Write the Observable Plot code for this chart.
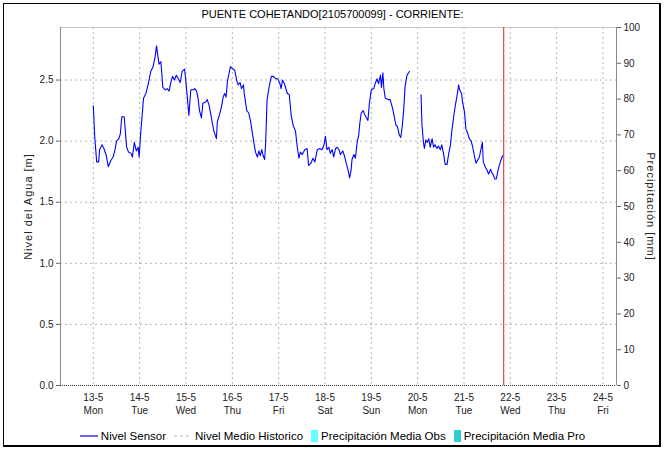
<!DOCTYPE html>
<html><head><meta charset="utf-8">
<script src="https://cdn.jsdelivr.net/npm/d3@7"></script>
<script src="https://cdn.jsdelivr.net/npm/@observablehq/plot@0.6"></script>
<style>
body{margin:0;background:#fff;font-family:"Liberation Sans",Arial,sans-serif;}
#wrap{position:relative;width:665px;height:449px;overflow:hidden;background:#fff;}
#frame{position:absolute;left:3px;top:3px;width:658px;height:444px;border:1px solid #000;border-right-width:2px;border-bottom-width:2px;box-sizing:border-box;}
#title{position:absolute;left:0;top:8px;width:665px;text-align:center;font-size:11px;line-height:13px;color:#000;}
#chart{position:absolute;left:0;top:22px;}
#legend{position:absolute;left:0;top:429px;width:665px;display:flex;justify-content:center;align-items:center;font-size:11.5px;line-height:14px;color:#000;}
#legend .it{display:flex;align-items:center;margin:0 4px;}
#legend svg{margin-right:3px;}
</style>
</head><body>
<div id="wrap">
<div id="frame"></div>
<div id="title"></div>
<div id="chart"></div>
<div id="legend"></div>
</div>
<script>
const title = "PUENTE COHETANDO[2105700099] - CORRIENTE:";
const yLabelLeft = "Nivel del Agua [m]";
const yLabelRight = "Precipitación [mm]";
const levelTicks = [0, 0.5, 1.0, 1.5, 2.0, 2.5];
const precipTicks = [0, 10, 20, 30, 40, 50, 60, 70, 80, 90, 100];
const yMax = 2.93;
const dayTicks = ["2024-05-13","2024-05-14","2024-05-15","2024-05-16","2024-05-17","2024-05-18","2024-05-19","2024-05-20","2024-05-21","2024-05-22","2024-05-23","2024-05-24"];
const dayNames = ["Sun","Mon","Tue","Wed","Thu","Fri","Sat"];
const xStart = "2024-05-12 07:00";
const xEnd = "2024-05-24 07:00";
const nowTime = "2024-05-21 20:35";
const legendItems = ["Nivel Sensor","Nivel Medio Historico","Precipitación Media Obs","Precipitación Media Pro"];

const may13 = [["00:00",2.29],["00:45",2.03],["01:45",1.83],["02:45",1.83],["03:15",1.93],["04:30",1.97],["05:30",1.94],["06:45",1.88],["07:45",1.79],["09:00",1.84],["10:15",1.87],["11:15",1.93],["12:00",2.00],["13:15",2.02],["14:00",2.06],["14:45",2.20],["16:00",2.20],["16:30",2.10],["17:15",1.95],["18:15",1.91],["19:30",1.90],["20:15",1.87],["21:15",1.99],["22:15",1.92],["23:15",1.95],["23:45",1.87]];
const may14 = [["00:30",2.06],["01:30",2.25],["02:00",2.35],["03:15",2.39],["04:30",2.47],["05:45",2.57],["07:00",2.61],["08:00",2.69],["08:45",2.78],["09:15",2.72],["10:00",2.63],["11:00",2.65],["11:30",2.55],["12:00",2.44],["13:15",2.42],["14:15",2.43],["15:15",2.41],["16:00",2.47],["17:00",2.53],["18:00",2.50],["19:00",2.54],["20:00",2.51],["21:00",2.48],["22:00",2.57],["23:15",2.59],["23:45",2.52]];
const may15 = [["00:45",2.35],["01:30",2.21],["02:30",2.42],["04:00",2.42],["04:30",2.43],["05:30",2.41],["06:15",2.35],["07:00",2.25],["08:00",2.19],["08:45",2.31],["10:15",2.32],["11:00",2.34],["12:00",2.29],["12:45",2.23],["13:45",2.14],["14:30",2.08],["15:45",2.02],["16:15",2.16],["17:15",2.21],["18:15",2.27],["19:15",2.36],["20:00",2.39],["20:45",2.36],["21:30",2.49],["22:15",2.55],["23:00",2.61]];
const may16 = [["00:15",2.59],["01:15",2.58],["02:15",2.50],["03:00",2.46],["04:00",2.48],["04:45",2.43],["05:45",2.46],["06:15",2.38],["07:30",2.25],["08:30",2.23],["09:30",2.16],["10:15",2.08],["11:15",1.98],["12:00",1.91],["13:00",1.87],["13:45",1.92],["14:30",1.88],["15:15",1.93],["16:00",1.88],["16:45",1.85],["17:15",1.98],["18:00",2.34],["19:15",2.46],["20:15",2.53],["21:15",2.53],["22:30",2.51],["23:30",2.51]];
const may17 = [["00:30",2.48],["01:15",2.43],["02:00",2.50],["03:00",2.47],["04:30",2.39],["05:30",2.38],["06:30",2.21],["07:30",2.13],["08:45",2.08],["09:30",1.97],["10:30",1.86],["11:15",1.91],["12:15",1.89],["13:30",1.93],["14:45",1.94],["15:30",1.80],["16:45",1.82],["17:45",1.86],["18:45",1.83],["20:00",1.93],["21:15",1.94],["22:30",1.93],["23:30",1.97]];
const may18 = [["00:15",2.04],["01:00",1.93],["02:00",1.95],["02:45",1.90],["03:45",1.93],["04:30",1.87],["05:30",1.94],["06:15",1.95],["07:15",1.93],["08:00",1.89],["09:15",1.92],["10:15",1.87],["11:00",1.82],["12:00",1.76],["12:45",1.70],["13:30",1.76],["14:00",1.85],["15:00",1.89],["15:45",1.86],["16:45",2.00],["17:30",2.05],["18:00",2.14],["18:45",2.23],["19:45",2.25],["20:30",2.22],["21:30",2.19],["22:15",2.17],["23:00",2.31]];
const may19 = [["00:00",2.42],["01:15",2.43],["02:00",2.47],["03:00",2.51],["03:45",2.47],["04:45",2.54],["05:15",2.44],["06:00",2.56],["06:30",2.43],["07:15",2.35],["08:45",2.34],["09:45",2.34],["11:00",2.27],["12:00",2.19],["12:45",2.13],["13:30",2.12],["14:30",2.05],["15:15",2.03],["16:00",2.12],["16:45",2.25],["17:30",2.45],["18:30",2.54],["19:45",2.57],["22:00",null]];
const may20 = [["01:45",2.38],["02:15",2.13],["03:00",1.99],["03:30",1.94],["04:15",2.01],["05:00",1.99],["05:45",2.02],["06:30",1.95],["07:30",2.02],["08:15",1.95],["09:00",1.97],["10:00",1.94],["10:45",1.96],["11:45",1.93],["12:30",1.97],["13:30",1.89],["14:15",1.81],["15:15",1.81],["16:00",1.89],["17:00",1.97],["17:45",2.09],["18:45",2.21],["19:30",2.29],["20:30",2.38],["21:15",2.46],["21:45",2.42],["22:45",2.39],["23:15",2.32]];
const may21 = [["00:15",2.24],["01:00",2.10],["02:00",2.06],["02:45",2.02],["03:45",2.00],["04:30",1.95],["05:15",1.89],["06:15",1.82],["07:15",1.85],["08:00",1.87],["08:45",1.93],["09:30",1.99],["10:00",1.83],["11:00",1.79],["12:00",1.76],["12:45",1.73],["13:45",1.77],["14:30",1.74],["15:15",1.72],["16:00",1.69],["16:45",1.69],["17:30",1.75],["18:15",1.80],["19:15",1.85],["20:00",1.88]];

const parse = d3.utcParse("%Y-%m-%d %H:%M");
const parseDay = d3.utcParse("%Y-%m-%d");
const sensorDays = [["2024-05-13",may13],["2024-05-14",may14],["2024-05-15",may15],["2024-05-16",may16],["2024-05-17",may17],["2024-05-18",may18],["2024-05-19",may19],["2024-05-20",may20],["2024-05-21",may21]];
const sensor = sensorDays.flatMap(([day, rows]) => rows.map(([hm, v]) => ({t: parse(day + " " + hm), v: v == null ? NaN : v})));
const xDomain = [parse(xStart), parse(xEnd)];
const ticksX = dayTicks.map(parseDay);
const fontFam = '"Liberation Sans", Arial, sans-serif';

document.getElementById("title").textContent = title;

const chart = Plot.plot({
  width: 665, height: 398,
  marginTop: 5, marginBottom: 35, marginLeft: 60, marginRight: 49,
  x: {type: "utc", domain: xDomain},
  y: {domain: [0, yMax]},
  style: {fontFamily: fontFam, fontSize: "10px", color: "#222", background: "transparent"},
  marks: [
    Plot.gridX(ticksX, {stroke: "#b4b4b4", strokeOpacity: 1, strokeDasharray: "2,3"}),
    Plot.gridY(levelTicks.filter(d => d > 0), {stroke: "#b4b4b4", strokeOpacity: 1, strokeDasharray: "2,3"}),
    Plot.ruleY([yMax], {stroke: "#c8c8c8"}),
    Plot.ruleX([xDomain[0]], {stroke: "#8a8a8a"}),
    Plot.ruleX([xDomain[1]], {stroke: "#8a8a8a"}),
    Plot.ruleY([0], {stroke: "#333", strokeDasharray: "1,1"}),
    Plot.ruleX([parse(nowTime)], {stroke: "#d42020", strokeWidth: 1}),
    Plot.line(sensor, {x: "t", y: "v", stroke: "#0000ff", strokeWidth: 1.1}),
    Plot.axisY({ticks: levelTicks, tickFormat: d3.format(".1f"), tickSize: 4, tickPadding: 3, label: null, stroke: "#666"}),
    Plot.axisY({anchor: "right", ticks: precipTicks.map(p => p / 100 * yMax), tickFormat: d => String(Math.round(d / yMax * 100)), tickSize: 4, tickPadding: 3, label: null, stroke: "#666"}),
    Plot.axisX({ticks: ticksX, tickFormat: d => `${d.getUTCDate()}-${d.getUTCMonth() + 1}\n${dayNames[d.getUTCDay()]}`, tickSize: 0, tickPadding: 6, lineHeight: 1.3, label: null}),
    Plot.text([yLabelLeft], {frameAnchor: "left", textAnchor: "middle", rotate: -90, dx: -32, fontSize: 11, fill: "#222"}),
    Plot.text([yLabelRight], {frameAnchor: "right", textAnchor: "middle", rotate: 90, dx: 34, fontSize: 11, fill: "#222"})
  ]
});
chart.querySelectorAll("text").forEach(t => {
  if (t.textContent === yLabelLeft || t.textContent === yLabelRight) t.style.letterSpacing = "1px";
});
document.getElementById("chart").appendChild(chart);

const swatches = [
  '<svg width="18" height="10"><line x1="0" y1="5" x2="18" y2="5" stroke="#0000ff" stroke-width="1.2"/></svg>',
  '<svg width="18" height="10"><line x1="0" y1="5" x2="18" y2="5" stroke="#b4b4b4" stroke-width="1" stroke-dasharray="3,3"/></svg>',
  '<svg width="7" height="12"><rect x="0" y="0" width="7" height="12" fill="#66ffff"/></svg>',
  '<svg width="7" height="12"><rect x="0" y="0" width="7" height="12" fill="#33cccc"/></svg>'
];
const leg = document.getElementById("legend");
legendItems.forEach((name, i) => {
  const d = document.createElement("div");
  d.className = "it";
  d.innerHTML = swatches[i] + "<span></span>";
  d.querySelector("span").textContent = name;
  leg.appendChild(d);
});
</script>
</body></html>
